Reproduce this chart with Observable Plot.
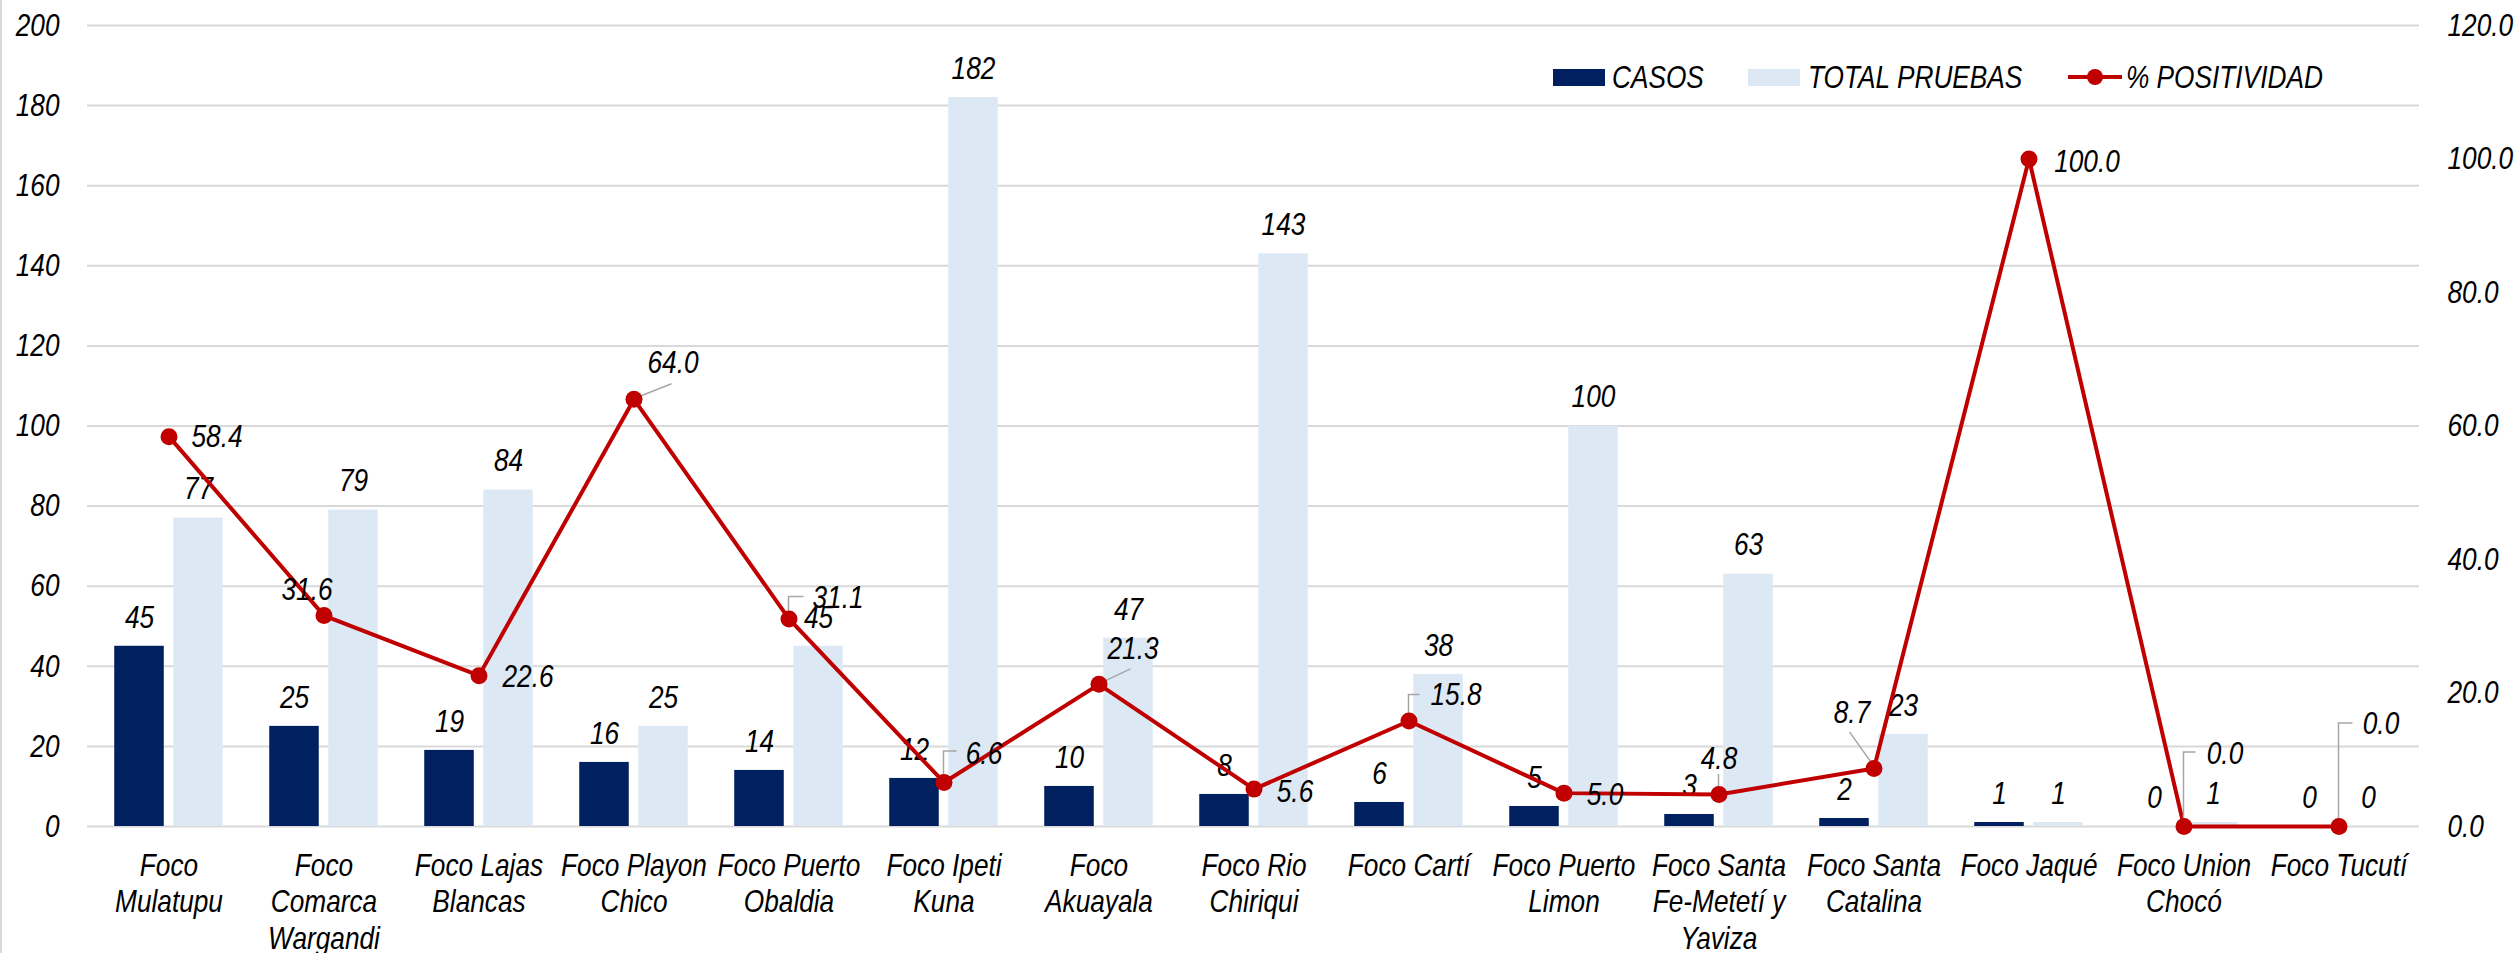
<!DOCTYPE html>
<html>
<head>
<meta charset="utf-8">
<script src="https://cdn.jsdelivr.net/npm/d3@7"></script>
<script src="https://cdn.jsdelivr.net/npm/@observablehq/plot@0.6"></script>
<style>
  html, body { margin: 0; padding: 0; background: #fff; overflow: hidden; }
  #wrap { position: relative; width: 2514px; height: 953px; }
  .lg { position: absolute; top: 0; left: 0; height: 953px; width: 2514px; pointer-events: none;
        font-family: 'Liberation Sans', Arial, sans-serif; font-style: italic; font-size: 32px; color: #000; }
  .lg .it { position: absolute; top: 57px; height: 40px; display: flex; align-items: center; white-space: nowrap; }
  .lg .it span { display: inline-block; transform: scaleX(0.82); transform-origin: 0 50%; }
  .lg .sw { width: 52px; height: 17px; }
  .border { position: absolute; left: 0; top: 0; width: 2px; height: 953px; background: #d9d9d9; }
</style>
</head>
<body>
<div id="wrap"></div>
<script>
// ---- data ----
const categories = ["Foco Mulatupu","Foco Comarca Wargandi","Foco Lajas Blancas","Foco Playon Chico","Foco Puerto Obaldia","Foco Ipeti Kuna","Foco Akuayala","Foco Rio Chiriqui","Foco Cartí","Foco Puerto Limon","Foco Santa Fe-Metetí y Yaviza","Foco Santa Catalina","Foco Jaqué","Foco Union Chocó","Foco Tucutí"];
const tickLabels = ["Foco\nMulatupu","Foco\nComarca\nWargandi","Foco Lajas\nBlancas","Foco Playon\nChico","Foco Puerto\nObaldia","Foco Ipeti\nKuna","Foco\nAkuayala","Foco Rio\nChiriqui","Foco Cartí","Foco Puerto\nLimon","Foco Santa\nFe-Metetí y\nYaviza","Foco Santa\nCatalina","Foco Jaqué","Foco Union\nChocó","Foco Tucutí"];
const casos = [45,25,19,16,14,12,10,8,6,5,3,2,1,0,0];
const totalPruebas = [77,79,84,25,45,182,47,143,38,100,63,23,1,1,0];
const positividad = [58.4,31.6,22.6,64.0,31.1,6.6,21.3,5.6,15.8,5.0,4.8,8.7,100.0,0.0,0.0];
const leftTicks = [0,20,40,60,80,100,120,140,160,180,200];
const rightTicks = [0,20,40,60,80,100,120];
const seriesNames = ["CASOS","TOTAL PRUEBAS","% POSITIVIDAD"];

// ---- layout / style ----
const FONT = "'Liberation Sans', Arial, sans-serif";
const NARROW = 0.82; // horizontal squeeze to mimic Arial Narrow
const C_CASOS = "#002060", C_TOTAL = "#dde8f5", C_LINE = "#c00000", C_GRID = "#d9d9d9", C_LEADER = "#a6a6a6";
const k = 200 / 120; // right axis (0-120) mapped onto left scale (0-200)
const W = 2514, H = 953, ML = 87, MR = 95, MT = 25, MB = 127;
const bw = (W - ML - MR) / categories.length;
const BAR = 50, GAP = 9;

// data label placement (pixel offsets of label centre from the point, Excel-like manual layout)
const posLabelLayout = [
  {dx: 48, dy: 0},
  {dx: -17, dy: -26},
  {dx: 49, dy: 1},
  {dx: 39, dy: -37, leader: [[0,0],[38,-15]]},
  {dx: 49, dy: -21, leader: [[0,-5],[0,-22],[15,-22]]},
  {dx: 40, dy: -29, leader: [[0,0],[0,-31],[13,-31]]},
  {dx: 34, dy: -36, leader: [[0,0],[32,-15]]},
  {dx: 41, dy: 3},
  {dx: 47, dy: -26, leader: [[0,0],[0,-26],[11,-26]]},
  {dx: 41, dy: 2},
  {dx: 0, dy: -36, leader: [[0,-7],[0,-20]]},
  {dx: -22, dy: -56, leader: [[-2,-5],[-24,-36]]},
  {dx: 58, dy: 3},
  {dx: 41, dy: -73, leader: [[0,0],[0,-74],[12,-74]]},
  {dx: 42, dy: -103, leader: [[0,0],[0,-103],[14,-103]]}
];

const data = categories.map((c, i) => ({cat: c, casos: casos[i], total: totalPruebas[i], pos: positividad[i]}));

const textOpts = {fontFamily: FONT, fontStyle: "italic", fontSize: 32, fill: "#000"};

const leaders = (index, scales) => {
  const g = d3.create("svg:g");
  const half = scales.x.bandwidth ? scales.x.bandwidth() / 2 : 0;
  data.forEach((d, i) => {
    const L = posLabelLayout[i].leader;
    if (!L) return;
    const cx = scales.x(d.cat) + half, cy = scales.y(d.pos * k);
    g.append("polyline")
      .attr("points", L.map(([a, b]) => `${cx + a},${cy + b}`).join(" "))
      .attr("fill", "none").attr("stroke", C_LEADER).attr("stroke-width", 1.5);
  });
  return g.node();
};

const chart = Plot.plot({
  width: W, height: H,
  marginLeft: ML, marginRight: MR, marginTop: MT, marginBottom: MB,
  style: {fontFamily: FONT, fontStyle: "italic", fontSize: "32px", color: "#000", background: "transparent", overflow: "visible"},
  x: {type: "band", domain: categories, padding: 0, axis: null},
  y: {domain: [0, 200], axis: null},
  marks: [
    Plot.gridY(leftTicks, {stroke: C_GRID, strokeOpacity: 1, strokeWidth: 2}),
    Plot.axisY(leftTicks, {anchor: "left", tickSize: 0, tickPadding: 28, label: null, ...textOpts}),
    Plot.axisY(rightTicks.map(v => v * k), {anchor: "right", tickSize: 0, tickPadding: 28, label: null,
      tickFormat: v => (v / k).toFixed(1), ...textOpts}),
    Plot.axisX({tickSize: 0, tickPadding: 23, label: null, lineHeight: 1.15,
      tickFormat: c => tickLabels[categories.indexOf(c)], ...textOpts}),
    Plot.barY(data, {x: "cat", y: "casos", fill: C_CASOS, insetLeft: bw / 2 - GAP / 2 - BAR, insetRight: bw / 2 + GAP / 2}),
    Plot.barY(data, {x: "cat", y: "total", fill: C_TOTAL, insetLeft: bw / 2 + GAP / 2, insetRight: bw / 2 - GAP / 2 - BAR}),
    Plot.text(data, {x: "cat", y: "casos", text: d => String(d.casos), dx: -(GAP / 2 + BAR / 2), dy: -29, ...textOpts}),
    Plot.text(data, {x: "cat", y: "total", text: d => String(d.total), dx: (GAP / 2 + BAR / 2), dy: -29, ...textOpts}),
    Plot.line(data, {x: "cat", y: d => d.pos * k, stroke: C_LINE, strokeWidth: 4}),
    leaders,
    Plot.dot(data, {x: "cat", y: d => d.pos * k, r: 8.5, fill: C_LINE, stroke: "none"}),
    ...data.map((d, i) => Plot.text([d], {x: "cat", y: dd => dd.pos * k, text: dd => dd.pos.toFixed(1),
      dx: posLabelLayout[i].dx, dy: posLabelLayout[i].dy, ...textOpts}))
  ]
});

// squeeze every text horizontally about its own anchor point (narrow font look)
chart.querySelectorAll("text").forEach(t => {
  const tr = t.getAttribute("transform") || "";
  const x = +(t.getAttribute("x") || 0);
  t.setAttribute("transform", `${tr} translate(${x},0) scale(${NARROW},1) translate(${-x},0)`);
});

const wrap = document.getElementById("wrap");
wrap.appendChild(chart);

// legend (HTML overlay, top right inside plot area)
const lg = document.createElement("div");
lg.className = "lg";
lg.innerHTML = `<div class="border"></div>
  <div class="it" style="left:1553px"><div class="sw" style="background:${C_CASOS}"></div></div>
  <div class="it" style="left:1612px"><span>${seriesNames[0]}</span></div>
  <div class="it" style="left:1748px"><div class="sw" style="background:${C_TOTAL}"></div></div>
  <div class="it" style="left:1808px"><span>${seriesNames[1]}</span></div>
  <div class="it" style="left:2068px"><svg width="54" height="20"><line x1="0" x2="54" y1="10" y2="10" stroke="${C_LINE}" stroke-width="4"/><circle cx="27" cy="10" r="8" fill="${C_LINE}"/></svg></div>
  <div class="it" style="left:2126px"><span>${seriesNames[2]}</span></div>`;
wrap.appendChild(lg);
</script>
</body>
</html>
